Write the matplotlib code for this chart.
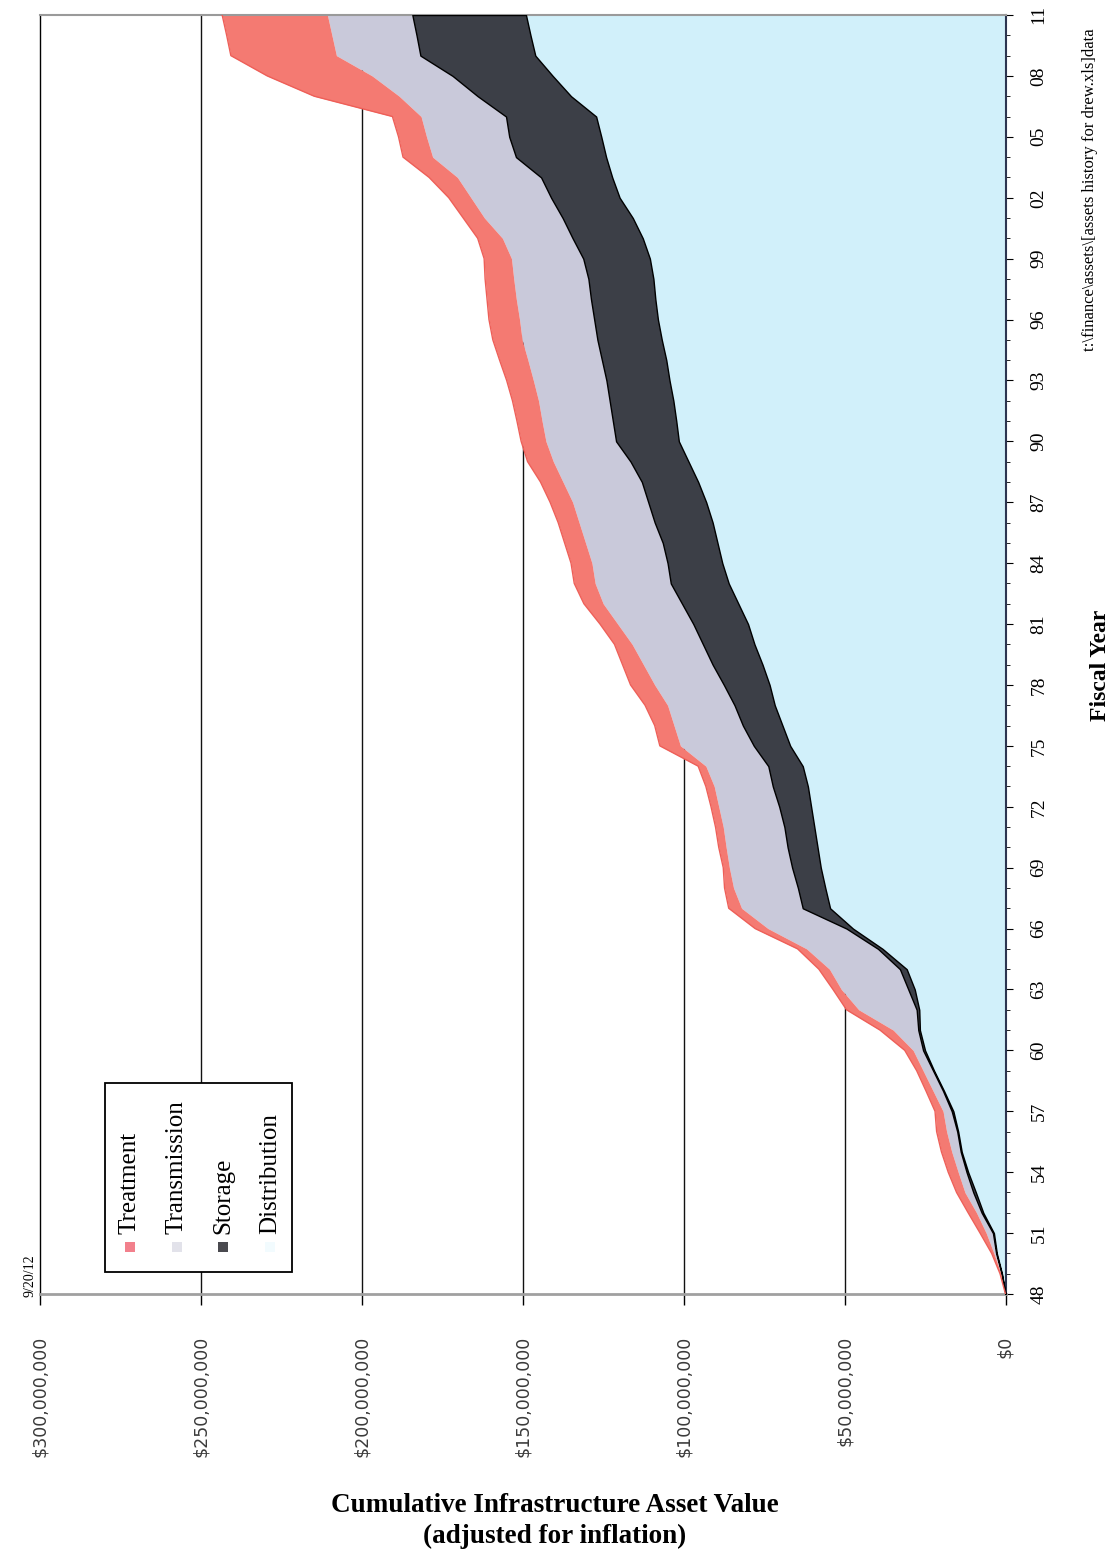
import matplotlib
matplotlib.use('Agg')
import matplotlib.pyplot as plt
from matplotlib.patches import Rectangle
from matplotlib.ticker import FuncFormatter
import numpy as np

# fiscal years 1948-2011, values in $ millions
years = list(range(1948, 2012))

distribution = [0, 1.1, 2.7, 3.6, 6.9, 9.2, 11.6, 13.6, 14.7, 16.2,
	19.1, 22.2, 25.0, 26.6, 26.8, 28.2, 30.7, 38.2, 47.4, 54.5,
	56.0, 57.4, 58.4, 59.4, 60.4, 61.4, 63.0, 66.9, 69.3, 71.7,
	73.3, 75.5, 78.0, 80.0, 83.0, 86.0, 88.0, 89.5, 91.0, 93.0,
	95.5, 98.5, 101.5, 102.3, 103.2, 104.4, 105.4, 106.8, 108.0, 108.8,
	109.4, 110.5, 112.7, 115.8, 119.9, 122.2, 124.1, 125.6, 127.2, 135.0,
	140.7, 146.1, 147.6, 149.0]

storage = [0, 0.1, 0.2, 0.3, 0.5, 0.8, 0.5, 0.3, 0.3, 0.5,
	0.3, 0.3, 0.6, 0.5, 0.8, 2.0, 2.1, 1.4, 2.0, 8.5,
	8.5, 8.9, 9.3, 9.3, 9.9, 10.9, 10.7, 11.3, 12.3, 12.5,
	14.2, 15.5, 16.0, 17.0, 17.5, 18.0, 17.0, 17.0, 18.0, 18.0,
	17.5, 18.0, 19.5, 19.7, 19.8, 19.6, 20.0, 20.0, 19.8, 20.0,
	20.2, 20.7, 21.8, 21.8, 21.3, 22.1, 28.0, 28.6, 28.0, 29.0,
	31.1, 35.7, 35.4, 35.3]

transmission = [0, 0.2, 0.7, 2.1, 1.6, 2.6, 2.6, 2.8, 3.3, 2.7,
	3.1, 3.1, 3.1, 7.8, 18.0, 20.8, 21.9, 22.2, 24.4, 19.0,
	20.0, 19.5, 19.1, 19.0, 18.8, 18.2, 19.4, 22.8, 21.4, 20.8,
	21.5, 21.5, 22.0, 23.5, 24.5, 23.5, 23.5, 24.0, 23.5, 23.5,
	24.5, 24.0, 21.8, 22.0, 22.1, 22.7, 23.0, 23.4, 23.2, 23.2,
	23.2, 22.3, 21.8, 24.3, 24.9, 26.0, 25.9, 25.7, 26.4, 24.4,
	25.0, 26.1, 26.3, 26.4]

treatment = [0, 0.3, 0.7, 1.9, 2.6, 2.6, 3.1, 3.2, 3.1, 2.5,
	2.2, 2.0, 2.6, 4.1, 3.8, 2.6, 3.3, 2.8, 4.0, 4.0,
	2.8, 1.9, 2.3, 2.4, 2.4, 2.6, 2.4, 6.4, 6.0, 7.0,
	7.5, 6.5, 5.5, 5.5, 6.0, 6.5, 6.5, 6.5, 6.5, 7.0,
	7.0, 8.0, 7.7, 7.8, 8.1, 8.3, 8.8, 9.1, 9.5, 9.1,
	8.9, 8.5, 7.7, 6.6, 6.9, 8.8, 9.2, 8.7, 8.9, 26.4,
	32.6, 32.8, 32.7, 32.7]

legend_names = ['Treatment', 'Transmission', 'Storage', 'Distribution']
value_ticks = [0, 50e6, 100e6, 150e6, 200e6, 250e6, 300e6]
year_ticks = list(range(1948, 2012, 3))

W, H = 1116, 1560


def fx(px):
	return px / W


def fy(py):
	return 1 - py / H


fig = plt.figure(figsize=(W / 100, H / 100), dpi=100)
ax = fig.add_axes([fx(40), fy(1294), fx(1005.5 - 40), (1294 - 15) / H])

yrs = np.array(years)
d_top = np.array(distribution) * 1e6
s_top = d_top + np.array(storage) * 1e6
t_top = s_top + np.array(transmission) * 1e6
total = t_top + np.array(treatment) * 1e6

# chart is drawn turned on its side: value runs right-to-left, year bottom-to-top
ax.fill_betweenx(yrs, 0, d_top, color='#d1f0fa', lw=0, zorder=2)
ax.fill_betweenx(yrs, s_top, t_top, color='#c9c9da', lw=0, zorder=2)
ax.fill_betweenx(yrs, t_top, total, color='#f47a72', lw=0, zorder=2)
ax.fill_betweenx(yrs, d_top, s_top, facecolor='#3c3f47', edgecolor='black', lw=1, zorder=3)
ax.plot(total, yrs, color='#ee5f58', lw=1, zorder=3)

for v in value_ticks[1:-1]:
	ax.axvline(v, color='#111111', lw=1, zorder=1)

ax.set_xlim(300e6, 0)
ax.set_ylim(1948, 2011)

ax.set_xticks(value_ticks)
ax.xaxis.set_major_formatter(FuncFormatter(lambda v, p: '${:,.0f}'.format(v)))
ax.tick_params(axis='x', direction='out', length=8, width=1, pad=22, labelsize=12.5,
	labelcolor='#3a3a3a', labelrotation=90)

ax.yaxis.tick_right()
ax.set_yticks(year_ticks)
ax.set_yticks(years, minor=True)
ax.set_yticklabels(['{:02d}'.format(y % 100) for y in year_ticks])
ax.tick_params(axis='y', which='major', direction='out', length=5, pad=13)
ax.tick_params(axis='y', which='minor', direction='out', length=3)
for label in ax.get_yticklabels():
	label.set_rotation(90)
	label.set_fontfamily('Liberation Serif')
	label.set_fontsize(14)
	label.set_va('center')

ax.spines['left'].set_color('black')
ax.spines['left'].set_linewidth(1)
ax.spines['top'].set_color('#9a9a9a')
ax.spines['top'].set_linewidth(1.5)
ax.spines['right'].set_color('#2c3550')
ax.spines['right'].set_linewidth(1.5)
ax.spines['bottom'].set_color('#a0a0a0')
ax.spines['bottom'].set_linewidth(2)

# legend, turned like the rest of the page
box = Rectangle((fx(105), fy(1272)), fx(292 - 105), (1272 - 1083) / H, transform=fig.transFigure,
	facecolor='white', edgecolor='black', lw=1.3, zorder=5)
fig.add_artist(box)
swatch_colors = ['#f2808c', '#e2e2ea', '#4a4a4f', '#f2fbfe']
for i, name in enumerate(legend_names):
	cx = 130 + i * 46.7
	sw = Rectangle((fx(cx - 5), fy(1252)), fx(10), 10 / H, transform=fig.transFigure,
		facecolor=swatch_colors[i], edgecolor='none', zorder=6)
	fig.add_artist(sw)
	fig.text(fx(cx), fy(1234), name, rotation=90, ha='center', va='bottom', fontsize=18,
		family='Liberation Serif', zorder=6)

fig.text(fx(30), fy(1297), '9/20/12', rotation=90, ha='center', va='bottom', fontsize=10,
	family='Liberation Serif')
fig.text(fx(1100), fy(665), 'Fiscal Year', rotation=90, ha='center', va='center', fontsize=17,
	fontweight='bold', family='Liberation Serif')
fig.text(fx(1090), fy(190), r't:\finance\assets\[assets history for drew.xls]data', rotation=90,
	ha='center', va='center', fontsize=12, family='Liberation Serif')
fig.text(fx(555), fy(1521), 'Cumulative Infrastructure Asset Value\n(adjusted for inflation)',
	ha='center', va='center', fontsize=19.5, fontweight='bold', family='Liberation Serif',
	linespacing=1.3)

plt.savefig('out.png', dpi=100)
plt.close()
